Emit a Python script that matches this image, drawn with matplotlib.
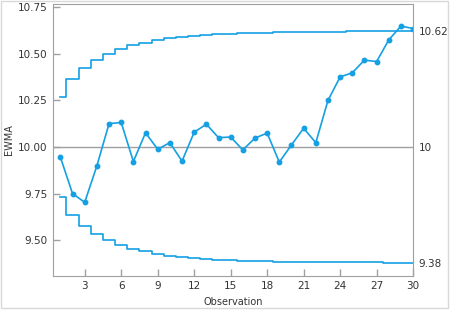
import matplotlib.pyplot as plt
from matplotlib.patches import Rectangle

obs = list(range(1, 31))
ewma = [9.945, 9.750, 9.704, 9.899, 10.125, 10.131, 9.922, 10.076, 9.988, 10.023,
        9.924, 10.079, 10.122, 10.050, 10.053, 9.984, 10.048, 10.074, 9.919, 10.011,
        10.100, 10.023, 10.249, 10.375, 10.397, 10.465, 10.457, 10.573, 10.647, 10.634]
ucl = [10.270, 10.363, 10.424, 10.468, 10.500, 10.525, 10.544, 10.559, 10.571, 10.581,
       10.588, 10.594, 10.599, 10.603, 10.606, 10.609, 10.611, 10.612, 10.614, 10.615,
       10.616, 10.616, 10.617, 10.617, 10.618, 10.618, 10.618, 10.619, 10.619, 10.619]
lcl = [9.730, 9.637, 9.576, 9.532, 9.500, 9.475, 9.456, 9.441, 9.429, 9.419,
       9.412, 9.406, 9.401, 9.397, 9.394, 9.391, 9.389, 9.388, 9.386, 9.385,
       9.384, 9.384, 9.383, 9.383, 9.382, 9.382, 9.382, 9.381, 9.381, 9.381]
center = 10
limit_labels = ['10.62', '10', '9.38']
limit_values = [10.62, 10, 9.38]

blue = '#14a0e3'
grey = '#a0a0a0'

fig = plt.figure(figsize=(4.5, 3.1), dpi=100)
fig.patches.append(Rectangle((0.003, 0.005), 0.993, 0.992, transform=fig.transFigure,
                             fill=False, edgecolor='#d8d8d8', linewidth=1))
ax = fig.add_axes([0.118, 0.11, 0.8, 0.877])

ax.axhline(center, color=grey, linewidth=1)
ax.step(obs, ucl, where='mid', color=blue, linewidth=1.2)
ax.step(obs, lcl, where='mid', color=blue, linewidth=1.2)
ax.plot(obs, ewma, color=blue, linewidth=1.2, marker='o', markersize=3.2)

ax.set_xlim(0.4, 30)
ax.set_ylim(9.31, 10.765)
ax.set_xticks(range(3, 31, 3))
ax.set_yticks([9.5, 9.75, 10.0, 10.25, 10.5, 10.75])
ax.set_yticklabels(['9.50', '9.75', '10.00', '10.25', '10.50', '10.75'])
ax.tick_params(direction='in', length=5, color=grey, labelsize=7.5, labelcolor='#333333', width=1, pad=4)
for s in ax.spines.values():
    s.set_color(grey)

ax2 = ax.twinx()
ax2.set_ylim(ax.get_ylim())
ax2.set_yticks(limit_values)
ax2.set_yticklabels(limit_labels)
ax2.tick_params(length=0, labelsize=7.5, labelcolor='#333333', pad=4)
for s in ax2.spines.values():
    s.set_visible(False)

ax.set_xlabel('Observation', fontsize=7, color='#333333', labelpad=4)
ax.set_ylabel('EWMA', fontsize=7, color='#333333', labelpad=3)

fig.savefig('out.png', dpi=100)
